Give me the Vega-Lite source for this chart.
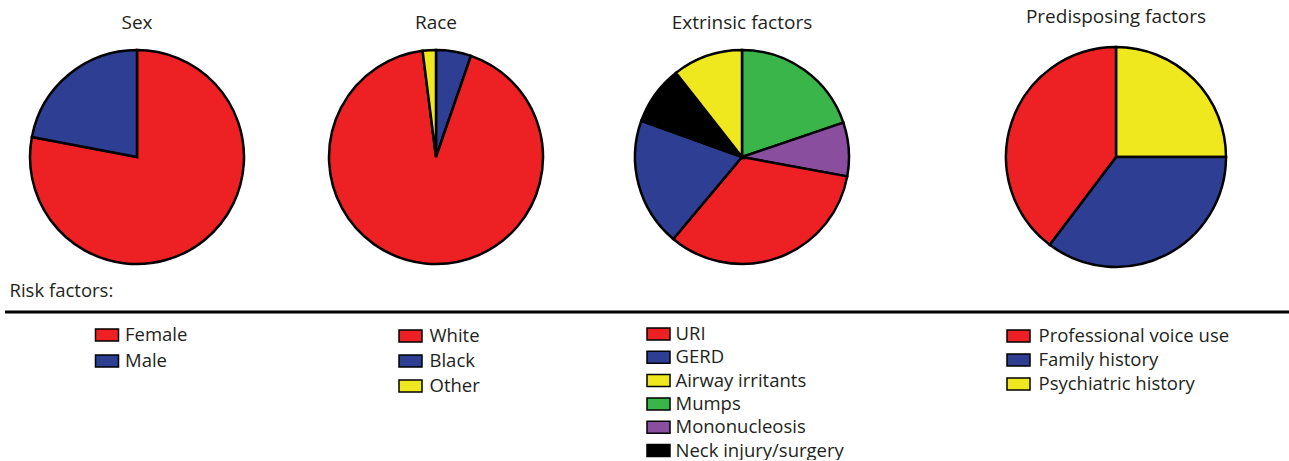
{
  "$schema": "https://vega.github.io/schema/vega-lite/v6.json",
  "background": "white",
  "padding": {"left": 3, "top": 8, "right": 0, "bottom": 0},
  "autosize": {"type": "pad"},
  "config": {
    "view": {"stroke": null},
    "font": "Open Sans",
    "title": {"fontSize": 19, "font": "Open Sans", "fontWeight": "normal", "color": "#231f20", "baseline": "alphabetic"},
    "legend": {
      "title": null,
      "symbolType": "M-1.15,-0.6L1.15,-0.6L1.15,0.6L-1.15,0.6Z",
      "symbolSize": 400,
      "symbolStrokeColor": "black",
      "symbolStrokeWidth": 1.5,
      "symbolOpacity": 1,
      "labelFontSize": 18.5,
      "labelFont": "Open Sans",
      "labelColor": "#231f20",
      "padding": 0,
      "labelLimit": 400
    }
  },
  "datasets": {
    "pies": [
      {"chart": "Sex", "category": "Female", "value": 78, "ord": 1},
      {"chart": "Sex", "category": "Male", "value": 22, "ord": 2},
      {"chart": "Race", "category": "Black", "value": 5.3, "ord": 1},
      {"chart": "Race", "category": "White", "value": 92.7, "ord": 2},
      {"chart": "Race", "category": "Other", "value": 2, "ord": 3},
      {"chart": "Extrinsic factors", "category": "Mumps", "value": 19.8, "ord": 1},
      {"chart": "Extrinsic factors", "category": "Mononucleosis", "value": 8.1, "ord": 2},
      {"chart": "Extrinsic factors", "category": "URI", "value": 33.2, "ord": 3},
      {"chart": "Extrinsic factors", "category": "GERD", "value": 19.4, "ord": 4},
      {"chart": "Extrinsic factors", "category": "Neck injury/surgery", "value": 8.9, "ord": 5},
      {"chart": "Extrinsic factors", "category": "Airway irritants", "value": 10.6, "ord": 6},
      {"chart": "Predisposing factors", "category": "Psychiatric history", "value": 25, "ord": 1},
      {"chart": "Predisposing factors", "category": "Family history", "value": 35.3, "ord": 2},
      {"chart": "Predisposing factors", "category": "Professional voice use", "value": 39.7, "ord": 3}
    ]
  },
  "bounds": "flush",
  "spacing": 261,
  "vconcat": [
    {
      "bounds": "flush",
      "spacing": 60,
      "resolve": {"scale": {"color": "independent", "theta": "independent"}, "legend": {"color": "independent"}},
      "hconcat": [
        {
          "width": 264, "height": 214,
          "title": {"text": "Sex", "offset": 12},
          "data": {"name": "pies"},
          "transform": [{"filter": "datum.chart === 'Sex'"}],
          "mark": {"type": "arc", "stroke": "black", "strokeWidth": 2.5},
          "encoding": {
            "theta": {"field": "value", "type": "quantitative", "stack": true},
            "order": {"field": "ord", "type": "quantitative"},
            "color": {"field": "category", "type": "nominal",
              "scale": {"domain": ["Female", "Male"], "range": ["#ed2024", "#2e3f93"]},
              "legend": {"orient": "none", "legendX": 91, "legendY": 274, "rowPadding": 5, "labelOffset": 7}}
          }
        },
        {
          "width": 214, "height": 214,
          "title": {"text": "Race", "offset": 12},
          "data": {"name": "pies"},
          "transform": [{"filter": "datum.chart === 'Race'"}],
          "mark": {"type": "arc", "stroke": "black", "strokeWidth": 2.5},
          "encoding": {
            "theta": {"field": "value", "type": "quantitative", "stack": true},
            "order": {"field": "ord", "type": "quantitative"},
            "color": {"field": "category", "type": "nominal",
              "scale": {"domain": ["White", "Black", "Other"], "range": ["#ed2024", "#2e3f93", "#f0e81e"]},
              "legend": {"orient": "none", "legendX": 70.5, "legendY": 275, "rowPadding": 4, "labelOffset": 8}}
          }
        },
        {
          "width": 278, "height": 214,
          "title": {"text": "Extrinsic factors", "offset": 12},
          "data": {"name": "pies"},
          "transform": [{"filter": "datum.chart === 'Extrinsic factors'"}],
          "mark": {"type": "arc", "stroke": "black", "strokeWidth": 2.5},
          "encoding": {
            "theta": {"field": "value", "type": "quantitative", "stack": true},
            "order": {"field": "ord", "type": "quantitative"},
            "color": {"field": "category", "type": "nominal",
              "scale": {"domain": ["URI", "GERD", "Airway irritants", "Mumps", "Mononucleosis", "Neck injury/surgery"],
                        "range": ["#ed2024", "#2e3f93", "#f0e81e", "#39b54a", "#894f9e", "#000000"]},
              "legend": {"orient": "none", "legendX": 44.5, "legendY": 273, "rowPadding": 2.3, "labelOffset": 6}}
          }
        },
        {
          "width": 350, "height": 214,
          "title": {"text": "Predisposing factors", "offset": 15},
          "data": {"name": "pies"},
          "transform": [{"filter": "datum.chart === 'Predisposing factors'"}],
          "mark": {"type": "arc", "stroke": "black", "strokeWidth": 2.5, "radius": 110},
          "encoding": {
            "theta": {"field": "value", "type": "quantitative", "stack": true},
            "order": {"field": "ord", "type": "quantitative"},
            "color": {"field": "category", "type": "nominal",
              "scale": {"domain": ["Professional voice use", "Family history", "Psychiatric history"], "range": ["#ed2024", "#2e3f93", "#f0e81e"]},
              "legend": {"orient": "none", "legendX": 66.5, "legendY": 275, "rowPadding": 3, "labelOffset": 9}}
          }
        }
      ]
    },
    {
      "width": 1286, "height": 1,
      "title": {"text": "Risk factors:", "anchor": "start", "fontSize": 18.5, "offset": 10, "dx": 6},
      "data": {"values": [{}]},
      "mark": {"type": "rule", "strokeWidth": 3, "color": "black"},
      "encoding": {
        "x": {"datum": 0, "type": "quantitative", "scale": {"domain": [0, 1]}, "axis": null},
        "x2": {"datum": 1},
        "y": {"datum": 0, "type": "quantitative", "scale": {"domain": [0, 1]}, "axis": null}
      }
    }
  ]
}
